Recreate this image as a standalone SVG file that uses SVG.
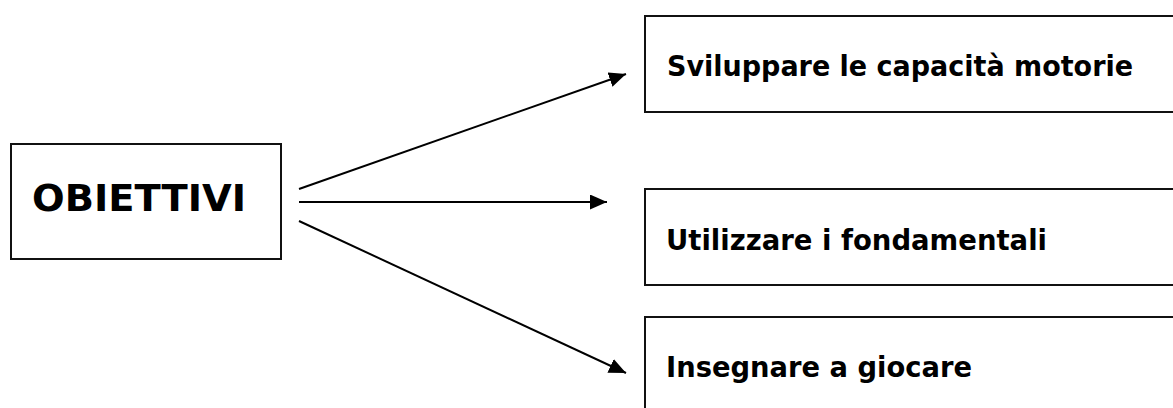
<svg xmlns="http://www.w3.org/2000/svg" width="1173" height="408" viewBox="0 0 1173 408">
<style>
.box{fill:#fff;stroke:#111;stroke-width:2}
.t{font-family:"DejaVu Sans","Liberation Sans",sans-serif;font-weight:bold;fill:#000}
.c{stroke:#000;stroke-width:2;fill:none;marker-end:url(#ah)}
</style>
<defs>
<marker id="ah" markerUnits="userSpaceOnUse" markerWidth="18" markerHeight="16" refX="17" refY="7.5" orient="auto">
<path d="M0,0 L17,7.5 L0,15 Z" fill="#000"/>
</marker>
</defs>
<rect width="1173" height="408" fill="#fff"/>
<g id="obiettivi">
<rect class="box" x="11" y="144" width="270" height="115"/>
<text class="t" x="32" y="211" font-size="38" textLength="214" lengthAdjust="spacingAndGlyphs">OBIETTIVI</text>
</g>
<g id="sviluppare">
<rect class="box" x="645" y="16" width="540" height="96"/>
<text class="t" x="667" y="76" font-size="28" textLength="466" lengthAdjust="spacingAndGlyphs">Sviluppare le capacità motorie</text>
</g>
<g id="utilizzare">
<rect class="box" x="645" y="189" width="540" height="96"/>
<text class="t" x="666" y="250" font-size="28" textLength="381" lengthAdjust="spacingAndGlyphs">Utilizzare i fondamentali</text>
</g>
<g id="insegnare">
<rect class="box" x="645" y="317" width="540" height="110"/>
<text class="t" x="666" y="377" font-size="28" textLength="306" lengthAdjust="spacingAndGlyphs">Insegnare a giocare</text>
</g>
<g id="connectors">
<line class="c" x1="299" y1="189" x2="626" y2="74"/>
<line class="c" x1="299" y1="202" x2="607" y2="202"/>
<line class="c" x1="299" y1="221" x2="626" y2="373"/>
</g>
</svg>
